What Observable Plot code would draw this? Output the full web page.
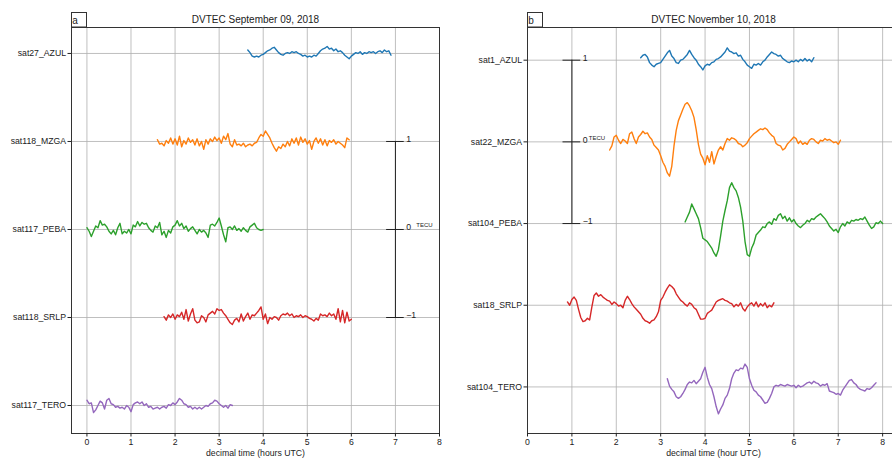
<!DOCTYPE html>
<html><head><meta charset="utf-8">
<script src="https://cdn.jsdelivr.net/npm/d3@7"></script>
<script src="https://cdn.jsdelivr.net/npm/@observablehq/plot@0.6"></script>
<style>
html,body{margin:0;padding:0;background:#fff;overflow:hidden;}
#wrap{display:flex;width:892px;height:459px;overflow:hidden;}
#wrap svg{flex:none;}
</style></head><body><div id="wrap"></div>
<script>
const colors = ["#1f77b4","#ff7f0e","#2ca02c","#d62728","#9467bd"];
const dt = 0.05;
const xTicks = [0,1,2,3,4,5,6,7,8];
const FONT = '"Liberation Sans", Arial, Helvetica, sans-serif';

// ---------- Panel a : DVTEC September 09, 2018 ----------
const titleA = "DVTEC September 09, 2018";
const xLabelA = "decimal time (hours UTC)";
const namesA = ["sat27_AZUL","sat118_MZGA","sat117_PEBA","sat118_SRLP","sat117_TERO"];
const startA = [3.65, 1.60, 0.00, 1.75, 0.00];
const azulA = [0.04,0.01,-0.03,-0.04,-0.03,-0.04,-0.02,-0.01,0.01,0.03,0.04,0.06,0.07,0.04,0.01,-0.01,-0.02,0.00,0.01,0.00,0.02,0.01,0.02,0.00,-0.01,-0.03,-0.02,-0.04,-0.03,-0.04,-0.02,-0.03,0.00,0.03,0.05,0.06,0.08,0.05,0.06,0.03,0.05,0.02,0.03,0.01,-0.02,-0.04,-0.06,-0.03,-0.01,0.01,0.00,0.02,-0.01,0.01,0.00,0.02,0.01,0.02,0.00,0.02,0.03,0.01,0.04,0.02,0.03,-0.02];
const mzgaA = [0.02,-0.03,-0.02,-0.05,0.01,-0.02,0.04,-0.03,0.03,-0.04,0.06,-0.06,0.01,-0.03,0.04,-0.01,0.02,-0.04,0.03,-0.05,0.00,-0.09,0.02,-0.03,0.03,0.00,0.05,0.01,0.04,-0.02,0.06,0.02,0.09,-0.03,-0.06,0.02,-0.04,-0.03,-0.05,-0.02,-0.06,-0.04,-0.03,-0.05,-0.02,-0.01,0.04,0.08,0.06,0.12,0.08,0.04,-0.02,-0.07,-0.11,-0.06,-0.08,-0.03,-0.06,0.00,-0.05,0.03,-0.02,0.04,-0.04,0.05,-0.01,0.03,-0.03,0.01,-0.09,0.00,0.04,-0.02,0.03,-0.04,0.02,-0.05,0.01,-0.01,0.02,-0.03,0.00,-0.02,-0.04,-0.07,0.04,0.02];
const pebaA = [0.02,-0.02,-0.08,-0.02,0.04,0.02,0.10,0.05,0.06,0.03,-0.02,-0.05,-0.01,-0.06,0.02,0.07,-0.05,-0.02,-0.04,0.00,-0.05,0.05,0.03,0.09,0.04,0.08,0.06,0.07,0.02,-0.01,-0.03,0.04,0.02,0.08,-0.06,-0.02,-0.09,-0.01,-0.04,0.03,0.05,0.10,0.04,0.07,0.01,0.04,-0.02,0.01,0.03,-0.01,-0.05,0.00,-0.03,-0.01,-0.04,-0.09,0.05,0.06,0.04,0.08,0.13,0.04,-0.06,-0.14,0.02,0.03,0.00,0.04,-0.01,0.01,-0.02,0.02,-0.01,-0.03,0.03,0.05,0.07,0.02,0.00,-0.01,0.00];
const srlpA = [0.01,-0.03,0.03,0.00,0.04,-0.02,0.03,0.01,0.06,-0.02,0.09,-0.04,0.04,0.10,-0.03,-0.06,-0.05,0.02,0.00,-0.05,0.03,0.05,0.07,0.04,0.10,0.08,0.09,0.05,0.02,-0.02,-0.06,-0.08,-0.03,-0.01,-0.05,0.04,-0.04,0.01,0.05,-0.02,0.03,0.02,0.05,0.08,0.12,-0.02,0.04,-0.07,0.00,-0.02,0.01,0.00,-0.03,0.02,0.04,0.03,0.05,0.02,0.04,0.00,0.02,0.01,0.03,0.00,0.02,0.01,-0.01,-0.02,-0.04,-0.01,-0.03,0.04,0.02,0.03,0.01,0.05,0.02,0.04,-0.02,0.10,-0.05,0.08,-0.06,0.06,-0.04,-0.02];
const teroA = [0.06,0.02,0.03,-0.08,-0.05,0.00,0.05,0.03,-0.04,0.06,0.08,0.02,0.01,-0.02,-0.01,-0.03,-0.02,-0.04,0.00,-0.02,-0.07,0.01,0.03,0.04,0.02,0.04,0.00,0.02,-0.02,-0.01,-0.04,-0.03,-0.02,-0.04,-0.02,-0.01,-0.03,0.01,0.00,0.03,0.01,0.04,0.08,0.06,0.02,0.01,-0.02,-0.01,-0.04,-0.02,-0.04,-0.02,-0.04,-0.02,0.00,-0.01,0.02,0.03,0.06,0.05,0.02,0.00,-0.02,0.00,-0.03,0.01,0.00];
const valuesA = [azulA, mzgaA, pebaA, srlpA, teroA];
const scaleBarA = {x: 7, center: "sat117_PEBA"};

// ---------- Panel b : DVTEC November 10, 2018 ----------
const titleB = "DVTEC November 10, 2018";
const xLabelB = "decimal time (hour UTC)";
const namesB = ["sat1_AZUL","sat22_MZGA","sat104_PEBA","sat18_SRLP","sat104_TERO"];
const startB = [2.55, 1.85, 3.55, 0.90, 3.15];
const azulB = [0.03,0.06,0.07,0.04,-0.03,-0.06,-0.08,-0.05,-0.04,-0.03,0.01,0.05,0.09,0.12,0.05,0.02,-0.03,-0.04,0.00,0.01,0.04,0.07,0.12,0.07,0.03,0.00,-0.05,-0.08,-0.12,-0.07,-0.05,-0.06,-0.03,-0.02,0.01,0.02,0.04,0.07,0.10,0.15,0.11,0.10,0.08,0.09,0.05,0.06,0.01,-0.02,-0.06,-0.08,-0.10,-0.05,-0.06,-0.04,-0.06,-0.02,0.00,0.04,0.07,0.10,0.08,0.07,0.05,0.06,0.02,0.00,-0.02,-0.03,-0.01,-0.02,0.00,-0.02,0.01,-0.01,0.02,-0.01,0.01,-0.02,0.03];
const mzgaB = [-0.10,-0.05,0.06,0.08,0.02,-0.02,0.03,0.01,-0.02,0.10,0.12,0.04,-0.02,0.06,0.09,0.13,0.10,0.11,0.06,0.03,-0.04,-0.07,-0.10,-0.17,-0.25,-0.30,-0.38,-0.42,-0.30,-0.05,0.14,0.26,0.33,0.40,0.46,0.48,0.44,0.38,0.30,0.15,-0.03,-0.15,-0.20,-0.28,-0.17,-0.25,-0.12,-0.27,-0.18,-0.10,-0.06,-0.10,-0.02,0.04,0.02,0.05,0.04,0.02,-0.02,-0.03,-0.06,-0.04,-0.01,0.04,0.07,0.10,0.12,0.14,0.16,0.15,0.17,0.15,0.11,0.08,0.06,-0.02,-0.04,-0.05,-0.10,-0.08,-0.03,0.00,0.03,0.06,0.04,-0.02,0.01,-0.03,-0.01,-0.03,0.02,0.04,0.03,0.00,-0.02,0.02,0.01,0.04,0.02,0.03,0.01,-0.01,0.00,-0.03,0.02];
const pebaB = [0.02,0.08,0.14,0.24,0.18,0.12,0.06,-0.05,-0.18,-0.20,-0.22,-0.26,-0.30,-0.36,-0.40,-0.32,-0.15,0.03,0.16,0.28,0.44,0.50,0.44,0.40,0.32,0.20,0.03,-0.22,-0.38,-0.40,-0.30,-0.24,-0.14,-0.11,-0.08,-0.04,-0.05,0.00,0.02,-0.01,0.06,0.04,0.10,0.12,0.06,0.09,0.03,0.07,0.02,0.05,0.00,-0.03,-0.05,-0.02,0.00,0.04,0.02,0.06,0.05,0.08,0.10,0.12,0.09,0.06,0.02,-0.03,-0.06,-0.09,-0.07,-0.11,-0.04,0.00,-0.03,0.02,0.00,0.04,0.03,0.05,0.04,0.06,0.05,0.08,0.03,-0.02,-0.06,-0.04,0.01,0.00,0.03,0.00];
const srlpB = [0.04,0.00,0.07,0.10,0.06,-0.05,-0.15,-0.20,-0.19,-0.16,-0.18,-0.02,0.12,0.15,0.11,0.13,0.10,0.08,0.06,0.05,0.01,0.04,0.02,-0.01,0.00,-0.03,0.06,0.11,0.07,0.02,-0.02,-0.05,-0.08,-0.11,-0.16,-0.19,-0.20,-0.22,-0.19,-0.18,-0.14,-0.08,0.06,0.10,0.16,0.21,0.25,0.23,0.20,0.14,0.10,0.06,0.04,0.01,-0.01,0.03,0.01,-0.03,-0.05,-0.11,-0.17,-0.17,-0.16,-0.10,-0.08,-0.06,-0.01,0.04,0.06,0.07,0.08,0.06,0.05,0.03,0.02,-0.02,0.01,-0.01,0.03,-0.04,-0.07,-0.02,0.01,0.03,-0.01,0.04,-0.02,0.02,-0.01,0.03,-0.03,0.00,-0.02,0.03];
const teroB = [0.10,0.01,-0.03,-0.06,-0.12,-0.14,-0.12,-0.08,-0.03,0.03,0.06,0.05,0.08,0.04,0.07,0.10,0.18,0.24,0.12,0.03,-0.02,-0.12,-0.24,-0.33,-0.27,-0.22,-0.14,-0.10,-0.02,0.10,0.17,0.21,0.20,0.23,0.22,0.28,0.24,0.10,0.02,-0.04,-0.06,-0.10,-0.12,-0.16,-0.20,-0.19,-0.14,-0.08,0.00,0.02,0.01,0.03,0.02,0.01,0.03,0.02,0.01,0.02,-0.01,0.02,0.00,0.01,0.03,0.05,0.06,0.04,0.07,0.05,0.04,0.01,0.03,0.02,0.04,-0.05,-0.06,-0.07,-0.09,-0.08,-0.10,-0.04,0.00,0.04,0.08,0.09,0.05,0.03,-0.01,-0.03,-0.04,-0.05,-0.02,-0.03,-0.01,0.02,0.05];
const valuesB = [azulB, mzgaB, pebaB, srlpB, teroB];
const scaleBarB = {x: 1, center: "sat22_MZGA"};

function rowsFor(names, starts, values) {
  const n = names.length, rows = [];
  names.forEach((name, k) => {
    const off = n - 1 - k;
    values[k].forEach((v, i) => {
      rows.push({series: name, t: Math.round((starts[k] + i * dt) * 1000) / 1000, y: off + v});
    });
  });
  return rows;
}

function panel(cfg) {
  const {names, starts, values, title, xLabel, scaleBar, letter, width, marginLeft, marginRight, xDomain, yDomain, tecuDx} = cfg;
  const n = names.length;
  const yTicks = d3.range(n);
  const rows = rowsFor(names, starts, values);
  const c = n - 1 - names.indexOf(scaleBar.center);
  const sbTicks = [c - 1, c, c + 1];
  const sbLabels = ["\u22121", "0", "1"];
  const tw = 0.2;
  const fs = 8.7;
  const p = Plot.plot({
    width, height: 459,
    marginLeft, marginRight, marginTop: 27, marginBottom: 26,
    x: {domain: xDomain},
    y: {domain: yDomain},
    color: {domain: names, range: colors},
    style: {fontFamily: FONT, fontSize: fs + "px", color: "#222", background: "white", overflow: "visible"},
    marks: [
      Plot.gridX({ticks: xTicks, stroke: "#b0b0b0", strokeOpacity: 0.9, strokeWidth: 0.9}),
      Plot.gridY({ticks: yTicks, stroke: "#b0b0b0", strokeOpacity: 0.9, strokeWidth: 0.9}),
      Plot.line(rows, {x: "t", y: "y", z: "series", stroke: "series", strokeWidth: 1.4}),
      Plot.ruleX([scaleBar.x], {y1: c - 1, y2: c + 1, stroke: "#222", strokeWidth: 1}),
      Plot.ruleY(sbTicks, {x1: scaleBar.x - tw, x2: scaleBar.x + tw, stroke: "#222", strokeWidth: 1}),
      Plot.text(sbTicks, {x: scaleBar.x + tw, y: d => d, text: (d, i) => sbLabels[i], textAnchor: "start", dx: 2, dy: -2, fontSize: fs, fill: "#222"}),
      Plot.text(["TECU"], {x: scaleBar.x + tw, y: c, textAnchor: "start", dx: tecuDx, dy: -4, fontSize: 6, fill: "#222"}),
      Plot.frame({stroke: "#333", strokeWidth: 1}),
      Plot.axisX({ticks: xTicks, tickSize: 3.5, tickPadding: 2, label: null, fontSize: fs, fill: "#222"}),
      Plot.axisY({ticks: yTicks, tickSize: 3.5, tickPadding: 2, label: null, fontSize: fs, fill: "#222", tickFormat: d => names[n - 1 - d]}),
      Plot.text([title], {frameAnchor: "top", dy: -8, fontSize: 10, fill: "#222", lineAnchor: "middle"}),
      Plot.text([xLabel], {frameAnchor: "bottom", dy: 20, fontSize: fs, fill: "#222", lineAnchor: "middle"})
    ]
  });
  const svg = d3.select(p);
  svg.append("rect").attr("x", marginLeft + 0.5).attr("y", 12.5).attr("width", 15).attr("height", 14.5)
    .attr("fill", "white").attr("stroke", "#333").attr("stroke-width", 1);
  svg.append("text").attr("x", marginLeft + 4).attr("y", 23.5).text(letter)
    .attr("font-size", 10).attr("fill", "#222").attr("font-family", FONT);
  return p;
}

const wrap = document.getElementById("wrap");
wrap.appendChild(panel({names: namesA, starts: startA, values: valuesA, title: titleA, xLabel: xLabelA, scaleBar: scaleBarA, letter: "a",
  width: 446, marginLeft: 71, marginRight: 7, xDomain: [-0.35, 8], yDomain: [-0.318, 4.295], tecuDx: 12}));
wrap.appendChild(panel({names: namesB, starts: startB, values: valuesB, title: titleB, xLabel: xLabelB, scaleBar: scaleBarB, letter: "b",
  width: 453, marginLeft: 81, marginRight: 0, xDomain: [0, 8.38], yDomain: [-0.57, 4.40], tecuDx: 8}));
</script></body></html>
